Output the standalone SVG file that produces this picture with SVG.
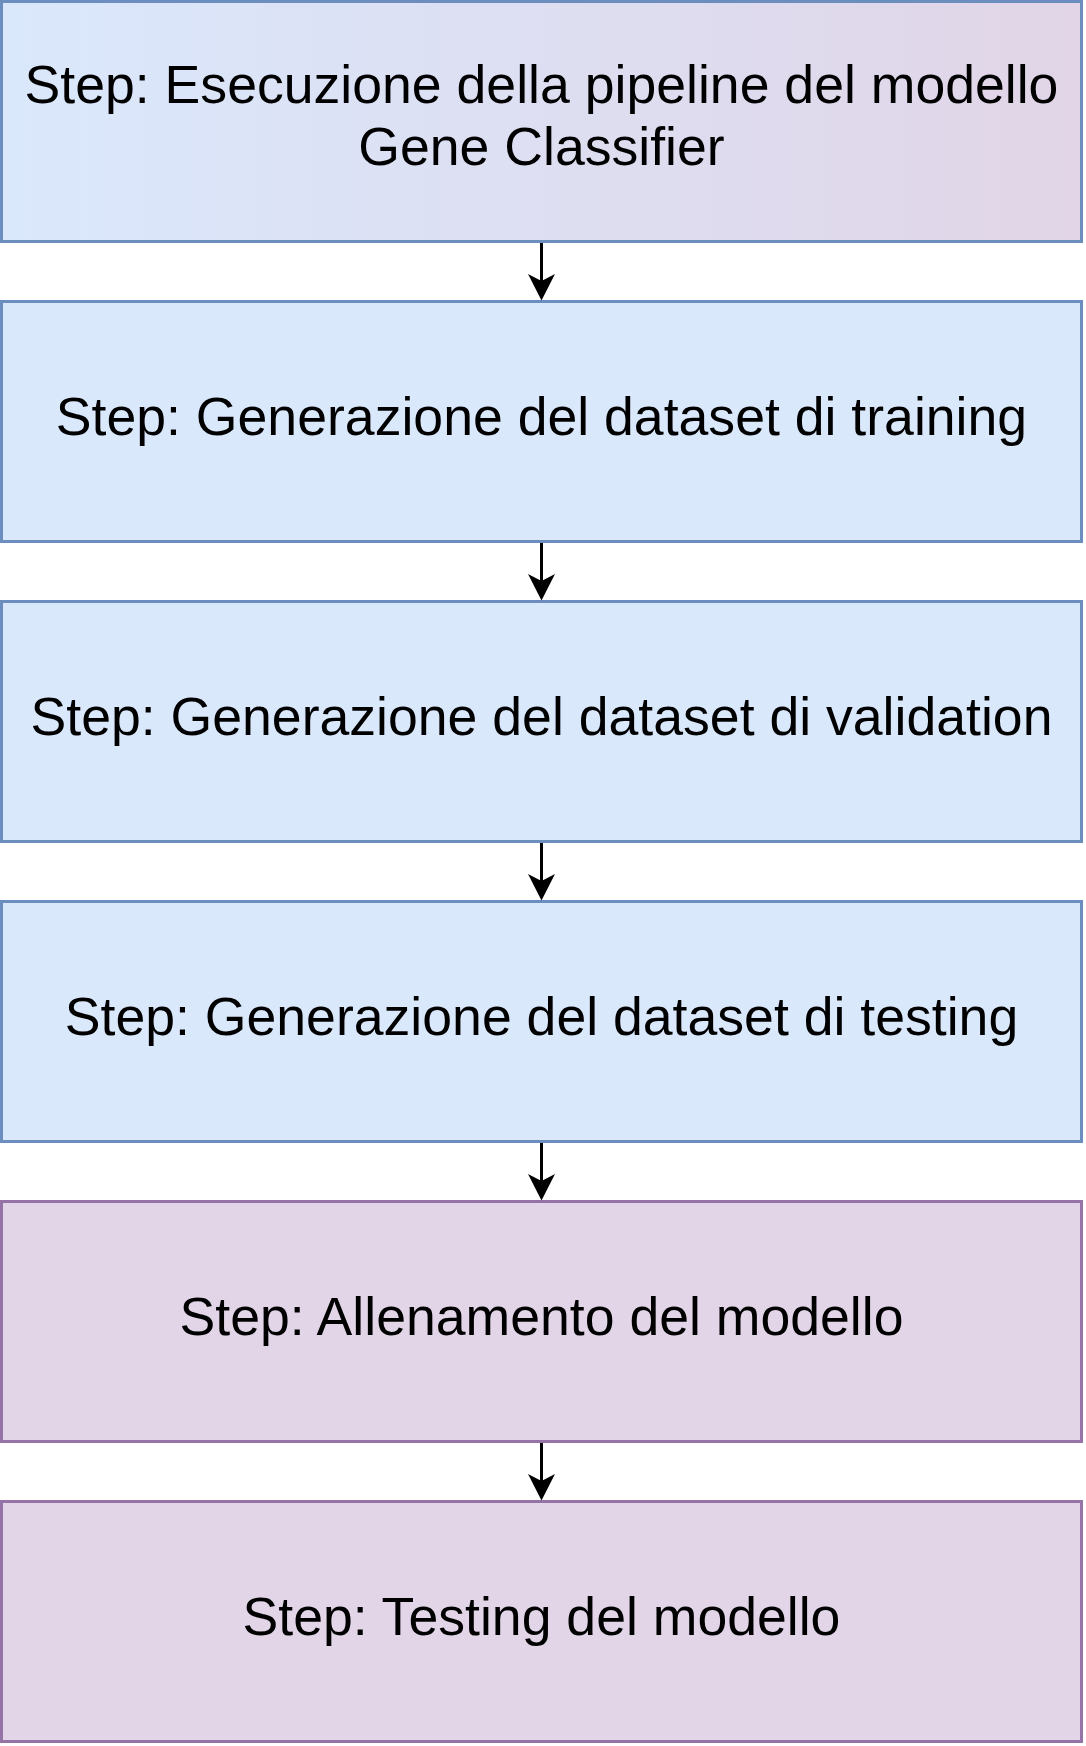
<svg xmlns="http://www.w3.org/2000/svg" width="1086" height="1746" viewBox="0 0 1086 1746">
<style>
.box{stroke-width:3}
.blue{fill:#dae8fc;stroke:#6c8ebf}
.purple{fill:#e1d5e7;stroke:#9673a6}
.lbl{font-family:"Liberation Sans",Arial,Helvetica,sans-serif;font-size:53.6px;fill:#000;text-anchor:middle}
.conn{stroke:#000;stroke-width:3;fill:none}
</style>
<defs>
<linearGradient id="g1" x1="0" y1="0" x2="1" y2="0">
<stop offset="0" stop-color="#dae8fc"/>
<stop offset="1" stop-color="#e1d5e7"/>
</linearGradient>
<path id="ah" d="M0 0 L-13.5 -26.5 L0 -19.5 L13.5 -26.5 Z" fill="#000"/>
</defs>
<g id="n1">
<rect class="box" x="1.5" y="1.5" width="1080" height="240" fill="url(#g1)" stroke="#6c8ebf"/>
<text class="lbl" x="541.5" y="103">Step: Esecuzione della pipeline del modello</text>
<text class="lbl" x="541.5" y="165">Gene Classifier</text>
</g>
<g id="n2">
<rect class="box blue" x="1.5" y="301.5" width="1080" height="240"/>
<text class="lbl" x="541.5" y="435">Step: Generazione del dataset di training</text>
</g>
<g id="n3">
<rect class="box blue" x="1.5" y="601.5" width="1080" height="240"/>
<text class="lbl" x="541.5" y="735">Step: Generazione del dataset di validation</text>
</g>
<g id="n4">
<rect class="box blue" x="1.5" y="901.5" width="1080" height="240"/>
<text class="lbl" x="541.5" y="1035">Step: Generazione del dataset di testing</text>
</g>
<g id="n5">
<rect class="box purple" x="1.5" y="1201.5" width="1080" height="240"/>
<text class="lbl" x="541.5" y="1335">Step: Allenamento del modello</text>
</g>
<g id="n6">
<rect class="box purple" x="1.5" y="1501.5" width="1080" height="240"/>
<text class="lbl" x="541.5" y="1635">Step: Testing del modello</text>
</g>
<g id="connectors">
<g id="e1"><line class="conn" x1="541.5" y1="243" x2="541.5" y2="284"/><use href="#ah" x="541.5" y="300.5"/></g>
<g id="e2"><line class="conn" x1="541.5" y1="543" x2="541.5" y2="584"/><use href="#ah" x="541.5" y="600.5"/></g>
<g id="e3"><line class="conn" x1="541.5" y1="843" x2="541.5" y2="884"/><use href="#ah" x="541.5" y="900.5"/></g>
<g id="e4"><line class="conn" x1="541.5" y1="1143" x2="541.5" y2="1184"/><use href="#ah" x="541.5" y="1200.5"/></g>
<g id="e5"><line class="conn" x1="541.5" y1="1443" x2="541.5" y2="1484"/><use href="#ah" x="541.5" y="1500.5"/></g>
</g>
</svg>
